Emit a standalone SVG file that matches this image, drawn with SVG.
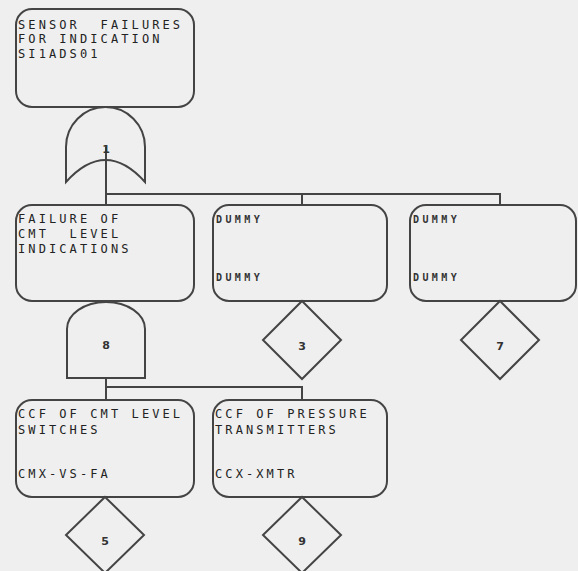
<svg xmlns="http://www.w3.org/2000/svg" width="578" height="571" viewBox="0 0 578 571">
<style>
.box{fill:none;stroke:#444;stroke-width:2}
.gate{fill:none;stroke:#444;stroke-width:2}
.con{fill:none;stroke:#444;stroke-width:2}
.t{font-family:"DejaVu Sans Mono","Liberation Mono",monospace;font-size:12px;letter-spacing:3.1px;fill:#222;white-space:pre}
.d{font-family:"DejaVu Sans Mono","Liberation Mono",monospace;font-size:10px;letter-spacing:3.4px;fill:#333;font-weight:bold}
.n{font-family:"DejaVu Sans","Liberation Sans",sans-serif;font-size:11px;font-weight:bold;fill:#333;text-anchor:middle}
</style>
<rect width="578" height="571" fill="#efefef"/>
<g id="connectors">
<path class="con" d="M106,147 V205 M106,194 H500 V205 M302,194 V205"/>
<path class="con" d="M106,378 V400 M106,387 H302 V400"/>
</g>
<g id="top">
<rect class="box" x="16" y="9" width="178" height="98" rx="16"/>
<text class="t" x="18" y="28.5" xml:space="preserve">SENSOR  FAILURES</text>
<text class="t" x="18" y="43">FOR INDICATION</text>
<text class="t" x="18" y="57.5">SI1ADS01</text>
</g>
<g id="gate1">
<path class="gate" d="M66,182 L66,147 A39.5,40 0 0 1 145,147 L145,182 Q105.5,138 66,182 Z"/>
<text class="n" x="106" y="153">1</text>
</g>
<g id="cmt">
<rect class="box" x="16" y="205" width="178" height="96" rx="16"/>
<text class="t" x="18" y="223">FAILURE OF</text>
<text class="t" x="18" y="238" xml:space="preserve">CMT  LEVEL</text>
<text class="t" x="18" y="253">INDICATIONS</text>
</g>
<g id="gate8">
<path class="gate" d="M67,378 L67,329 A39,27 0 0 1 145,329 L145,378 Z"/>
<text class="n" x="106" y="349">8</text>
</g>
<g id="dummy3">
<rect class="box" x="213" y="205" width="174" height="96" rx="16"/>
<text class="d" x="216" y="223">DUMMY</text>
<text class="d" x="216" y="281">DUMMY</text>
<path class="gate" d="M302,301 L341,340 L302,379 L263,340 Z"/>
<text class="n" x="302" y="350">3</text>
</g>
<g id="dummy7">
<rect class="box" x="410" y="205" width="166" height="96" rx="16"/>
<text class="d" x="413" y="223">DUMMY</text>
<text class="d" x="413" y="281">DUMMY</text>
<path class="gate" d="M500,301 L539,340 L500,379 L461,340 Z"/>
<text class="n" x="500" y="350">7</text>
</g>
<g id="switches">
<rect class="box" x="16" y="400" width="178" height="97" rx="16"/>
<text class="t" x="18" y="418">CCF OF CMT LEVEL</text>
<text class="t" x="18" y="434">SWITCHES</text>
<text class="t" x="18" y="478">CMX-VS-FA</text>
<path class="gate" d="M105,497 L144,535 L105,573 L66,535 Z"/>
<text class="n" x="105" y="545">5</text>
</g>
<g id="transmitters">
<rect class="box" x="213" y="400" width="174" height="97" rx="16"/>
<text class="t" x="215" y="418">CCF OF PRESSURE</text>
<text class="t" x="215" y="434">TRANSMITTERS</text>
<text class="t" x="215" y="478">CCX-XMTR</text>
<path class="gate" d="M302,497 L341,535 L302,573 L263,535 Z"/>
<text class="n" x="302" y="545">9</text>
</g>
</svg>
